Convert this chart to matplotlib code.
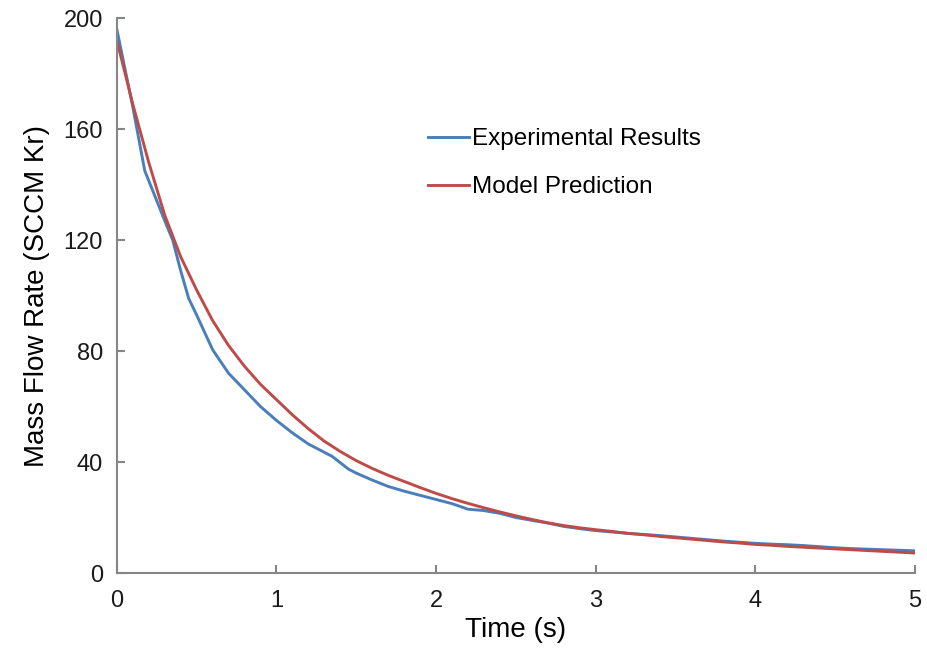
import matplotlib.pyplot as plt

plt.rcParams['font.family'] = ['Liberation Sans', 'DejaVu Sans']

# experimental results (blue)
t_exp = [0.0, 0.1, 0.175, 0.3, 0.35, 0.4, 0.45, 0.5, 0.6, 0.7, 0.8, 0.9, 1.0,
         1.1, 1.2, 1.3, 1.35, 1.45, 1.5, 1.6, 1.7, 1.8, 1.9, 2.0, 2.1, 2.2, 2.3,
         2.4, 2.5, 2.6, 2.7, 2.8, 2.9, 3.0, 3.1, 3.2, 3.3, 3.4, 3.5, 3.6, 3.7,
         3.8, 3.9, 4.0, 4.1, 4.2, 4.3, 4.4, 4.5, 4.6, 4.7, 4.8, 4.9, 5.0]
mfr_exp = [196, 168, 145, 127, 120, 109, 99, 93, 80.5, 72, 66, 60, 55,
           50.5, 46.5, 43.5, 42, 37.5, 36, 33.5, 31.2, 29.5, 28, 26.5, 25, 23, 22.5,
           21.5, 20, 19, 18, 16.8, 16, 15.3, 14.8, 14.3, 13.9, 13.5, 13, 12.5, 12,
           11.5, 11.1, 10.7, 10.4, 10.2, 9.9, 9.5, 9.1, 8.8, 8.6, 8.4, 8.2, 8.0]

# model prediction (red)
t_model = [round(0.1 * i, 1) for i in range(51)]
mfr_model = [192, 169, 148, 129, 114, 102, 91, 82, 74.5, 68, 62.5,
             57, 52, 47.5, 43.8, 40.5, 37.7, 35.2, 33, 30.8, 28.7,
             26.8, 25.1, 23.5, 22, 20.6, 19.3, 18.1, 17.1, 16.3, 15.6,
             15, 14.3, 13.8, 13.2, 12.7, 12.2, 11.7, 11.2, 10.8, 10.3,
             10, 9.6, 9.3, 9.0, 8.7, 8.4, 8.1, 7.8, 7.5, 7.2]

fig = plt.figure(figsize=(9.27, 6.56), dpi=100)
ax = fig.add_axes([0.126, 0.1265, 0.861, 0.846])

ax.plot(t_exp, mfr_exp, color='#4A7EBB', lw=2.1, label='Experimental Results')
ax.plot(t_model, mfr_model, color='#BE4B48', lw=2.1, label='Model Prediction')

ax.set_xlim(0, 5)
ax.set_ylim(0, 200)
ax.set_xticks([0, 1, 2, 3, 4, 5])
ax.set_yticks([0, 40, 80, 120, 160, 200])

for s in ['top', 'right']:
    ax.spines[s].set_visible(False)
for s in ['left', 'bottom']:
    ax.spines[s].set_color('#868686')
    ax.spines[s].set_linewidth(1.5)

ax.tick_params(direction='in', length=6, width=1.5, color='#868686',
               labelsize=17, labelcolor='#1a1a1a')
ax.tick_params(axis='x', pad=12)
ax.tick_params(axis='y', pad=10)

ax.set_xlabel('Time (s)', fontsize=20, labelpad=4)
ax.set_ylabel('Mass Flow Rate (SCCM Kr)', fontsize=20, labelpad=10)

ax.legend(loc='upper left', bbox_to_anchor=(0.3625, 0.841), frameon=False,
          fontsize=17.5, handlelength=1.7, handletextpad=0.12, labelspacing=1.08)

fig.savefig('out.png', dpi=100)
